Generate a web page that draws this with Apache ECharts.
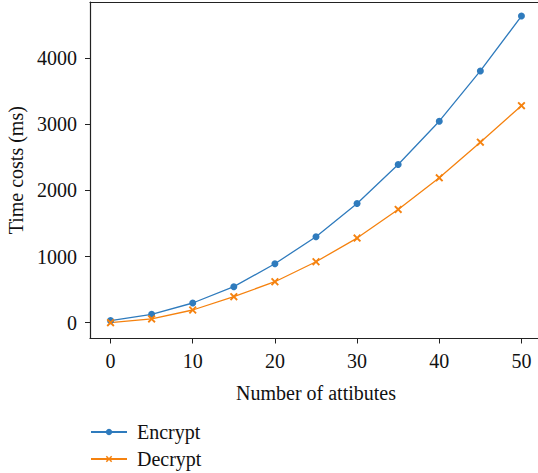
<!DOCTYPE html>
<html><head><meta charset="utf-8">
<script src="https://cdn.jsdelivr.net/npm/echarts@6/dist/echarts.min.js"></script>
<style>html,body{margin:0;padding:0;background:#fff;overflow:hidden}#c{width:538px;height:473px;overflow:hidden}</style>
</head><body><div id="c"></div>
<script>
const xValues = [0, 5, 10, 15, 20, 25, 30, 35, 40, 45, 50];
const encrypt = [30, 126, 297, 544, 891, 1299, 1802, 2391, 3047, 3807, 4637];
const decrypt = [0, 56, 191, 393, 619, 921, 1279, 1712, 2190, 2730, 3282];
const xTicks = [0, 10, 20, 30, 40, 50];
const yTicks = [0, 1000, 2000, 3000, 4000];

const font = 'Liberation Serif';
const fs = 20;
const xSym = 'path://M-2,-3 L0,-1 L2,-3 L3,-2 L1,0 L3,2 L2,3 L0,1 L-2,3 L-3,2 L-1,0 L-3,-2 Z';
const axisLineStyle = {color: '#222', width: 1.2};
const chart = echarts.init(document.getElementById('c'), null, {renderer: 'svg'});
chart.setOption({
  animation: false,
  backgroundColor: '#fff',
  textStyle: {fontFamily: font},
  grid: {left: 90, top: 2, width: 452, height: 336.5, containLabel: false, outerBoundsMode: 'none', show: false},
  legend: {
    orient: 'vertical', left: 90, top: 422, padding: 0, itemWidth: 36, itemHeight: 8, itemGap: 7,
    textStyle: {fontFamily: font, fontSize: fs, color: '#111', padding: [0, 0, 0, 5]},
    data: ['Encrypt', 'Decrypt']
  },
  xAxis: [{
    type: 'value', min: -2.5, max: 52.5,
    name: 'Number of attibutes', nameLocation: 'middle', nameGap: 44,
    nameTextStyle: {fontFamily: font, fontSize: fs, color: '#111'},
    axisLine: {show: true, onZero: false, lineStyle: axisLineStyle},
    axisTick: {show: true, length: 5, lineStyle: {color: '#222'}, customValues: xTicks},
    axisLabel: {fontFamily: font, fontSize: fs, color: '#111', margin: 12, customValues: xTicks},
    splitLine: {show: false}
  }, {
    type: 'value', position: 'top', min: -2.5, max: 52.5,
    axisLine: {show: true, onZero: false, lineStyle: axisLineStyle},
    axisTick: {show: false}, axisLabel: {show: false}, splitLine: {show: false}
  }],
  yAxis: {
    type: 'value', min: -240, max: 4850,
    name: 'Time costs (ms)', nameLocation: 'middle', nameGap: 60, nameRotate: 90,
    nameTextStyle: {fontFamily: font, fontSize: fs, color: '#111'},
    axisLine: {show: true, onZero: false, lineStyle: axisLineStyle},
    axisTick: {show: true, length: 5, lineStyle: {color: '#222'}, customValues: yTicks},
    axisLabel: {fontFamily: font, fontSize: fs, color: '#111', margin: 13, customValues: yTicks,
                formatter: v => String(v)},
    splitLine: {show: false}
  },
  series: [
    {name: 'Encrypt', type: 'line', data: xValues.map((x, i) => [x, encrypt[i]]),
     color: '#2f7bbd', lineStyle: {width: 1.3}, symbol: 'circle', symbolSize: 7},
    {name: 'Decrypt', type: 'line', data: xValues.map((x, i) => [x, decrypt[i]]),
     color: '#f5820f', lineStyle: {width: 1.3}, symbol: xSym, symbolSize: 8}
  ]
});
</script></body></html>
